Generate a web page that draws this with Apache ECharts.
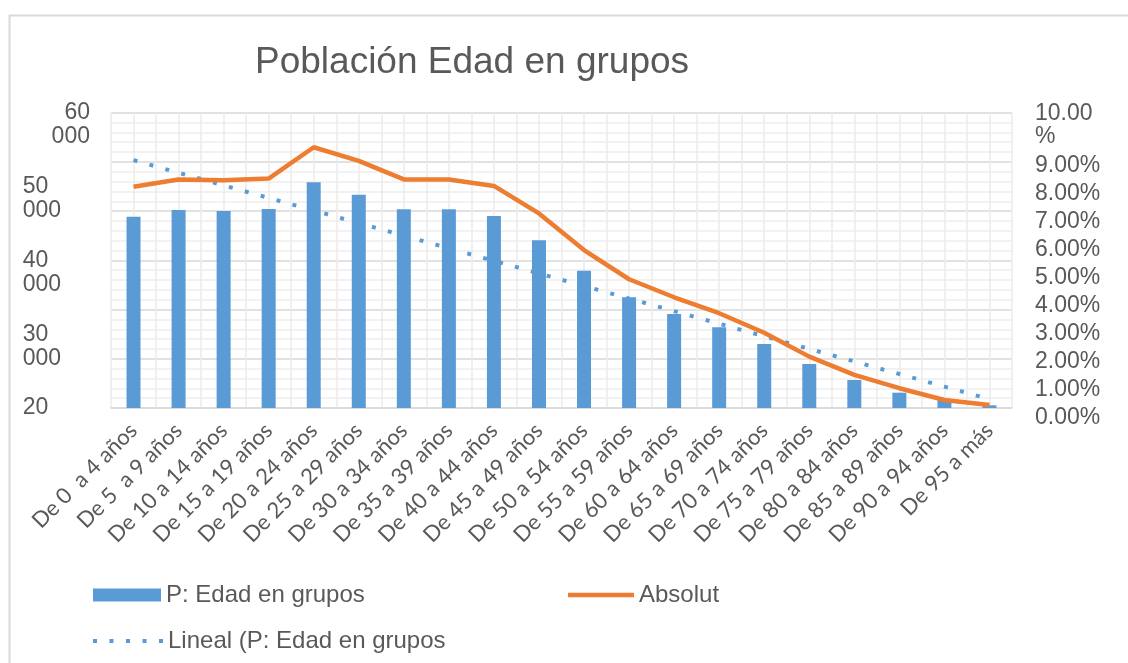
<!DOCTYPE html>
<html lang="es">
<head>
  <meta charset="UTF-8">
  <title>Población Edad en grupos</title>
  <style>
    body { margin: 0; background: #fff; }
    #chart { width: 1128px; height: 663px; }
  </style>
</head>
<body>
  <div id="chart"></div>
  <script src="https://cdn.jsdelivr.net/npm/echarts@6/dist/echarts.min.js"></script>
  <script>
    // grupos de edad
    var categories = ['De 0  a 4 años', 'De 5  a 9 años', 'De 10 a 14 años', 'De 15 a 19 años',
      'De 20 a 24 años', 'De 25 a 29 años', 'De 30 a 34 años', 'De 35 a 39 años',
      'De 40 a 44 años', 'De 45 a 49 años', 'De 50 a 54 años', 'De 55 a 59 años',
      'De 60 a 64 años', 'De 65 a 69 años', 'De 70 a 74 años', 'De 75 a 79 años',
      'De 80 a 84 años', 'De 85 a 89 años', 'De 90 a 94 años', 'De 95 a más'];

    // P: Edad en grupos (barras, eje izq.)
    var poblacion = [38870, 40230, 40030, 40440, 45860, 43340, 40380, 40380, 39010, 34070,
      27900, 22490, 19100, 16400, 13000, 8940, 5690, 3110, 1630, 550];

    // Absolut (%, eje der.)
    var absolut = [7.49, 7.74, 7.71, 7.77, 8.83, 8.37, 7.74, 7.74, 7.52, 6.59,
      5.35, 4.36, 3.75, 3.21, 2.55, 1.74, 1.12, 0.67, 0.27, 0.10];

    // etiquetas de los ejes tal como salen en Excel
    var leftTicks = [20000, 30000, 40000, 50000, 60000];
    var rightTicks = [0, 1, 2, 3, 4, 5, 6, 7, 8, 9, 10];

    // linea de tendencia lineal (minimos cuadrados sobre las barras)
    var n = poblacion.length, sx = 0, sy = 0, sxy = 0, sxx = 0;
    poblacion.forEach(function (v, i) {
      var x = i + 1;
      sx += x; sy += v; sxy += x * v; sxx += x * x;
    });
    var slope = (n * sxy - sx * sy) / (n * sxx - sx * sx);
    var icpt = (sy - slope * sx) / n;
    var tendencia = poblacion.map(function (v, i) { return icpt + slope * (i + 1); });

    // en Excel el "10.00 %" va partido en dos lineas y algo mas arriba
    var topShift = 0.45;
    var rightLabelPos = rightTicks.map(function (t) { return t === 10 ? t + topShift : t; });

    var grey = '#595959';
    var plot = { left: 111, right: 116, top: 112.7, bottom: 255 };
    var legendText = { fontFamily: 'Liberation Sans', fontSize: 24, color: grey };
    // icono punteado de la leyenda (5 cuadritos)
    var dotsIcon = 'path://M0,0h4v4h-4z M16.5,0h4v4h-4z M33,0h4v4h-4z M49.5,0h4v4h-4z M66,0h4v4h-4z';

    var chart = echarts.init(document.getElementById('chart'));
    chart.setOption({
      animation: false,
      backgroundColor: '#fff',
      title: {
        text: 'Población Edad en grupos',
        left: 250, top: 39,
        textStyle: { fontFamily: 'Liberation Sans', fontSize: 37, fontWeight: 'normal', color: grey }
      },
      graphic: [{
        type: 'rect', left: 7, top: 13, silent: true,
        shape: { width: 1140, height: 670 },
        style: { fill: 'none', stroke: '#d9d9d9', lineWidth: 2 }
      }],
      legend: [{
        data: ['P: Edad en grupos'], left: 88, top: 578, icon: 'rect',
        itemWidth: 68, itemHeight: 13, textStyle: legendText
      }, {
        data: ['Absolut'], left: 563, top: 578, icon: 'rect',
        itemWidth: 66, itemHeight: 4.5, textStyle: legendText
      }, {
        data: ['Lineal (P: Edad en grupos'], left: 88, top: 624, icon: dotsIcon,
        itemWidth: 70, itemHeight: 4, textStyle: legendText
      }],
      grid: [
        { left: plot.left, right: plot.right, top: plot.top, bottom: plot.bottom },
        // solo para colocar las etiquetas del eje derecho como en el original (28 px por 1 %)
        { left: plot.left, right: plot.right, top: 124, bottom: 245 }
      ],
      xAxis: [{
        type: 'category', gridIndex: 0, data: categories,
        axisTick: { show: false },
        axisLine: { lineStyle: { color: '#d9d9d9', width: 1.5 } },
        axisLabel: {
          interval: 0, rotate: 45, margin: 19,
          fontFamily: 'Lato', fontSize: 22, color: grey
        },
        splitLine: { show: false }
      }, {
        type: 'value', gridIndex: 0, min: 0, max: 40, interval: 1, position: 'top',
        axisLine: { show: false }, axisTick: { show: false }, axisLabel: { show: false },
        splitLine: { show: true, lineStyle: { color: '#ebebeb', width: 1.5 } }
      }, {
        type: 'value', gridIndex: 1, min: 0, max: 1, show: false
      }],
      yAxis: [{
        type: 'value', gridIndex: 0, min: 0, max: 60000, interval: 10000,
        axisLine: { show: false }, axisTick: { show: false }, axisLabel: { show: false },
        splitLine: { lineStyle: { color: '#d9d9d9', width: 1.5 } },
        minorTick: { show: false, splitNumber: 5 },
        minorSplitLine: { show: true, lineStyle: { color: '#eeeeee', width: 1.5 } }
      }, {
        type: 'value', gridIndex: 0, position: 'right', min: 0, max: 10,
        axisLine: { show: false }, axisTick: { show: false }, axisLabel: { show: false },
        splitLine: { show: false }
      }, {
        // etiquetas del eje izquierdo
        type: 'value', gridIndex: 0, position: 'left',
        min: leftTicks[0], max: leftTicks[leftTicks.length - 1], interval: 10000,
        axisLine: { show: false }, axisTick: { show: false }, splitLine: { show: false },
        axisLabel: {
          align: 'left', margin: 88.3, lineHeight: 24,
          showMinLabel: true, showMaxLabel: true, hideOverlap: false,
          fontFamily: 'Liberation Sans', fontSize: 23, color: grey,
          formatter: function (v) {
            var k = String(Math.round(v / 1000));
            if (v === 60000) return ' \n{a|' + k + '}\n{b|000}';
            if (v === 20000) return ' \n' + k + '\n ';
            return ' \n' + k + '\n000';
          },
          rich: {
            a: { fontFamily: 'Liberation Sans', fontSize: 23, lineHeight: 24, color: grey, padding: [0, 0, 0, 41.7] },
            b: { fontFamily: 'Liberation Sans', fontSize: 23, lineHeight: 24, color: grey, padding: [0, 0, 0, 28.9] }
          }
        }
      }, {
        // etiquetas del eje derecho
        type: 'value', gridIndex: 1, position: 'right',
        min: 0, max: 10.5,
        axisLine: { show: false }, axisTick: { show: false }, splitLine: { show: false },
        axisLabel: {
          margin: 23, lineHeight: 23, customValues: rightLabelPos,
          showMinLabel: true, showMaxLabel: true, hideOverlap: false,
          fontFamily: 'Liberation Sans', fontSize: 23, color: grey,
          formatter: function (v) {
            var t = Math.floor(v);
            var s = t.toFixed(2);
            if (t === 10) return s + '\n%';
            return s + '%';
          }
        }
      }],
      series: [{
        name: 'P: Edad en grupos', type: 'bar',
        xAxisIndex: 0, yAxisIndex: 0,
        data: poblacion, barWidth: 14,
        itemStyle: { color: '#5b9bd5' }
      }, {
        name: 'Lineal (P: Edad en grupos', type: 'line',
        xAxisIndex: 0, yAxisIndex: 0,
        data: tendencia, symbol: 'none', z: 3,
        lineStyle: { color: '#5b9bd5', width: 4, type: [4, 12.5], cap: 'butt' },
        itemStyle: { color: '#5b9bd5' }
      }, {
        name: 'Absolut', type: 'line',
        xAxisIndex: 0, yAxisIndex: 1,
        data: absolut, symbol: 'none', z: 4,
        lineStyle: { color: '#ed7d31', width: 4.5 },
        itemStyle: { color: '#ed7d31' }
      }]
    });
  </script>
</body>
</html>
